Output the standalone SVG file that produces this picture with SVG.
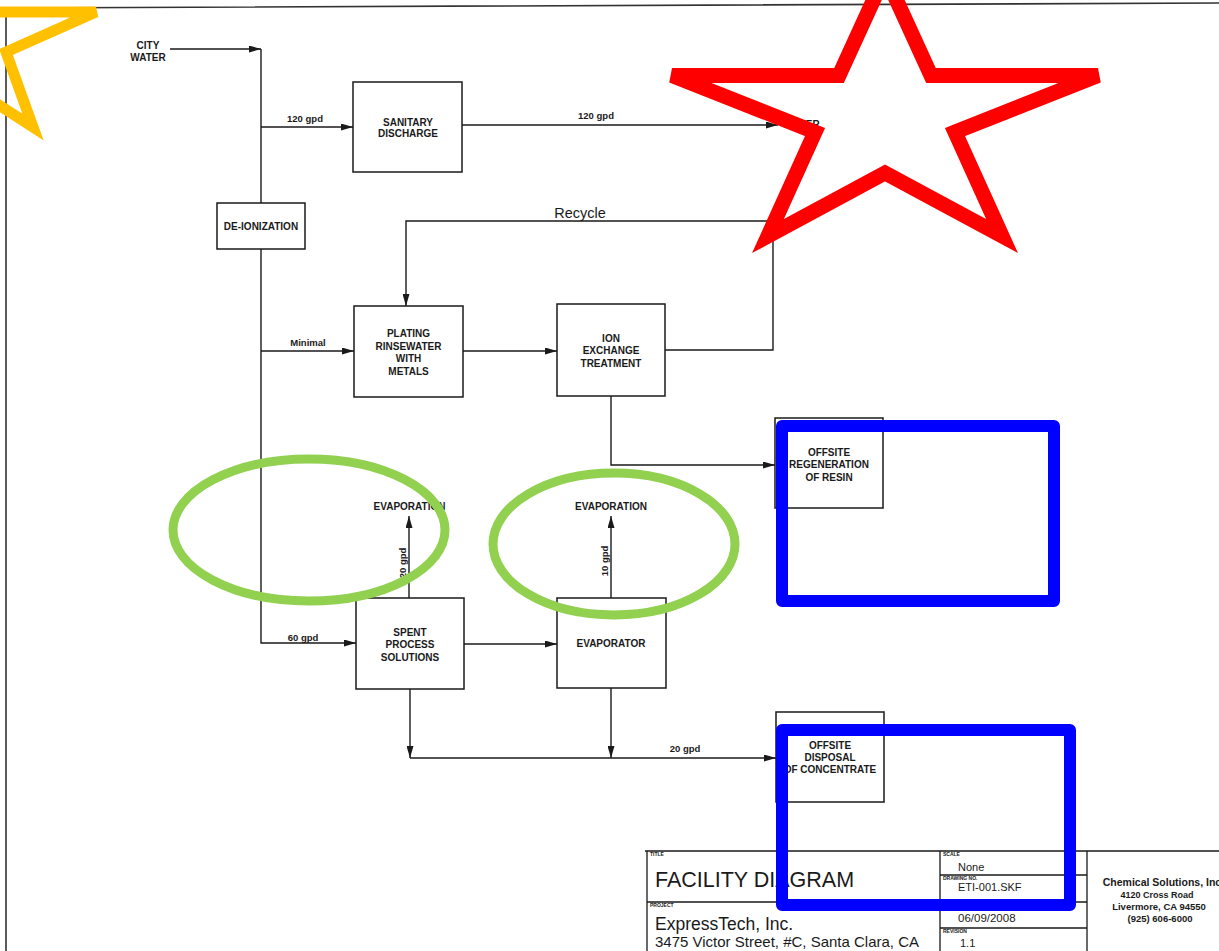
<svg xmlns="http://www.w3.org/2000/svg" width="1219" height="951" viewBox="0 0 1219 951">
<defs>
<marker id="ah" viewBox="0 0 12 7" refX="12" refY="3.5" markerWidth="12" markerHeight="7" markerUnits="userSpaceOnUse" orient="auto"><path d="M0,0 L12,3.5 L0,7 z" fill="#1a1a1a"/></marker>
<style>
.box{fill:#fff;stroke:#1a1a1a;stroke-width:1.5}
.ln{fill:none;stroke:#1a1a1a;stroke-width:1.4}
.t{font-family:"Liberation Sans",Arial,sans-serif;font-weight:bold;font-size:10px;fill:#1a1a1a;text-anchor:middle}
.s{font-family:"Liberation Sans",Arial,sans-serif;font-weight:bold;font-size:9.5px;fill:#1a1a1a;text-anchor:middle}
.r{font-family:"Liberation Sans",Arial,sans-serif;fill:#1a1a1a}
.tiny{font-family:"Liberation Sans",Arial,sans-serif;font-weight:bold;font-size:5px;fill:#1a1a1a}
.tb{fill:none;stroke:#1a1a1a;stroke-width:1.3}
</style>
</defs>
<rect width="1219" height="951" fill="#fff"/>
<!-- border -->
<path d="M6,8 V951 M6,8 L1219,3" fill="none" stroke="#333" stroke-width="1.6"/>

<g id="connectors">
<path class="ln" d="M170,49 H261" marker-end="url(#ah)"/>
<path class="ln" d="M261,49 V203"/>
<path class="ln" d="M261,127 H353" marker-end="url(#ah)"/>
<path class="ln" d="M462,125 H778" marker-end="url(#ah)"/>
<path class="ln" d="M261,249 V643 H356" marker-end="url(#ah)"/>
<path class="ln" d="M261,351 H354" marker-end="url(#ah)"/>
<path class="ln" d="M463,351 H557" marker-end="url(#ah)"/>
<path class="ln" d="M665,350 H773 V221 H406 V306" marker-end="url(#ah)"/>
<path class="ln" d="M611,396 V465 H775" marker-end="url(#ah)"/>
<path class="ln" d="M409,598 V516" marker-end="url(#ah)"/>
<path class="ln" d="M611,598 V516" marker-end="url(#ah)"/>
<path class="ln" d="M464,644 H557" marker-end="url(#ah)"/>
<path class="ln" d="M410,689 V758" marker-end="url(#ah)"/>
<path class="ln" d="M611,688 V758" marker-end="url(#ah)"/>
<path class="ln" d="M410,758 H776" marker-end="url(#ah)"/>
<text class="s" x="305" y="122">120 gpd</text>
<text class="s" x="596" y="119">120 gpd</text>
<text class="r" x="580" y="218" font-size="14.5" text-anchor="middle">Recycle</text>
<text class="s" x="308" y="346">Minimal</text>
<text class="s" x="303" y="641">60 gpd</text>
<text class="s" x="685" y="752">20 gpd</text>
<text class="s" x="608" y="561" transform="rotate(-90 608 561)">10 gpd</text>
<text class="s" x="406" y="563" transform="rotate(-90 406 563)">20 gpd</text>
</g>

<g id="city-water">
<text class="t" x="148" y="48.6">CITY</text>
<text class="t" x="148" y="60.6">WATER</text>
</g>
<g id="sewer">
<text class="t" x="783" y="128" style="text-anchor:start">SEWER</text>
</g>
<g id="deionization">
<rect class="box" x="217" y="203" width="88" height="46"/>
<text class="t" x="261" y="229.5">DE-IONIZATION</text>
</g>
<g id="sanitary">
<rect class="box" x="353" y="82" width="109" height="90"/>
<text class="t" x="408" y="125.5">SANITARY</text>
<text class="t" x="408" y="137">DISCHARGE</text>
</g>
<g id="plating">
<rect class="box" x="354" y="306" width="109" height="91"/>
<text class="t" x="408.5" y="337">PLATING</text>
<text class="t" x="408.5" y="349.5">RINSEWATER</text>
<text class="t" x="408.5" y="362">WITH</text>
<text class="t" x="408.5" y="374.5">METALS</text>
</g>
<g id="ion-exchange">
<rect class="box" x="557" y="304" width="108" height="92"/>
<text class="t" x="611" y="341.5">ION</text>
<text class="t" x="611" y="354">EXCHANGE</text>
<text class="t" x="611" y="366.5">TREATMENT</text>
</g>
<g id="offsite-regeneration">
<rect class="box" x="775" y="418" width="108" height="90"/>
<text class="t" x="829" y="455.5">OFFSITE</text>
<text class="t" x="829" y="468">REGENERATION</text>
<text class="t" x="829" y="480.5">OF RESIN</text>
</g>
<g id="evaporation-1">
<text class="t" x="409.5" y="509.5">EVAPORATION</text>
</g>
<g id="evaporation-2">
<text class="t" x="611" y="509.5">EVAPORATION</text>
</g>
<g id="spent">
<rect class="box" x="356" y="598" width="108" height="91"/>
<text class="t" x="410" y="635.5">SPENT</text>
<text class="t" x="410" y="648">PROCESS</text>
<text class="t" x="410" y="660.5">SOLUTIONS</text>
</g>
<g id="evaporator">
<rect class="box" x="557" y="598" width="109" height="90"/>
<text class="t" x="611" y="646.5">EVAPORATOR</text>
</g>
<g id="offsite-disposal">
<rect class="box" x="776" y="712" width="108" height="90"/>
<text class="t" x="830" y="748.5">OFFSITE</text>
<text class="t" x="830" y="760.5">DISPOSAL</text>
<text class="t" x="830" y="772.5">OF CONCENTRATE</text>
</g>

<g id="title-block">
<path class="tb" d="M645,851 H1219 M647,851 V951 M647,902 H940 M940,851 V951 M1087,851 V951 M940,875 H1087 M940,902 H1087 M940,928 H1087"/>
<text class="tiny" x="650" y="856">TITLE</text>
<text class="r" x="655" y="887" font-size="21.5">FACILITY DIAGRAM</text>
<text class="tiny" x="650" y="907">PROJECT</text>
<text class="r" x="655" y="929.5" font-size="17.5">ExpressTech, Inc.</text>
<text class="r" x="655" y="947" font-size="15">3475 Victor Street, #C, Santa Clara, CA</text>
<text class="tiny" x="943" y="855.5">SCALE</text>
<text class="r" x="958" y="871" font-size="11">None</text>
<text class="tiny" x="943" y="879.5">DRAWING NO.</text>
<text class="r" x="958" y="891" font-size="11">ETI-001.SKF</text>
<text class="tiny" x="943" y="906.5">DATE</text>
<text class="r" x="958" y="922" font-size="11.5">06/09/2008</text>
<text class="tiny" x="943" y="932.5">REVISION</text>
<text class="r" x="960" y="947" font-size="11">1.1</text>
<text class="t" x="1162" y="886" style="font-size:10.5px">Chemical Solutions, Inc</text>
<text class="t" x="1157" y="898" style="font-size:9px">4120 Cross Road</text>
<text class="t" x="1159" y="910" style="font-size:9.5px">Livermore, CA 94550</text>
<text class="t" x="1160" y="922" style="font-size:9.5px">(925) 606-6000</text>
</g>

<g id="annotations" fill="none">
<ellipse cx="309" cy="530" rx="136" ry="71" stroke="#92D050" stroke-width="9"/>
<ellipse cx="614" cy="544" rx="121" ry="71" stroke="#92D050" stroke-width="9"/>
<rect x="782" y="426" width="272" height="175" stroke="#0000FF" stroke-width="12" stroke-linejoin="round"/>
<rect x="782" y="730" width="288" height="175" stroke="#0000FF" stroke-width="12" stroke-linejoin="round"/>
<polygon points="885,-25 931,75.5 1098,75.5 955,132 1002,236 885,173 768,236 815,132 672,75.5 839,75.5" stroke="#FF0000" stroke-width="15"/>
<polygon points="96,12 6,52 33,127 -40,80 -150,140 -90,40 -170,-40 -80,-30 -40,-100 -40,12" stroke="#FFC000" stroke-width="11"/>
</g>
</svg>
